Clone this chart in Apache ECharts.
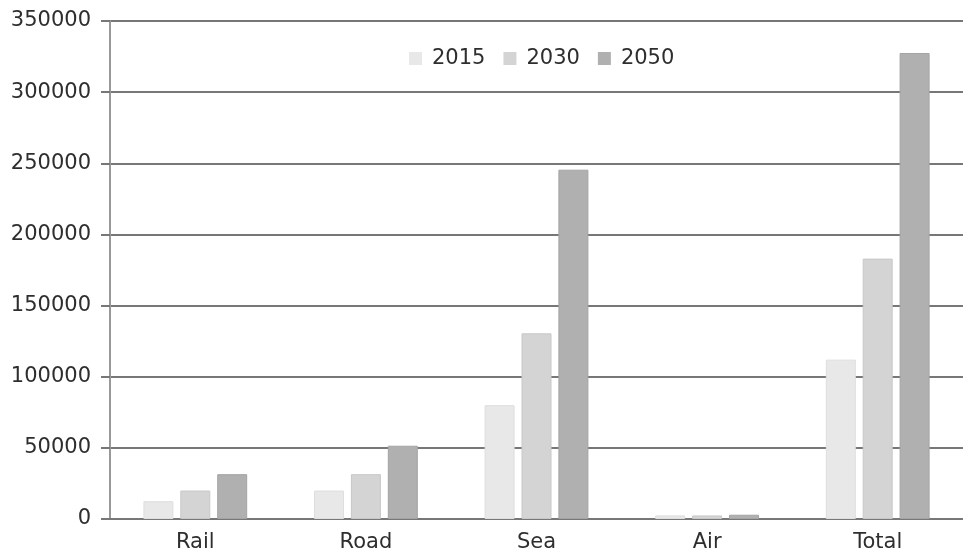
<!DOCTYPE html>
<html><head><meta charset="utf-8">
<script src="https://cdn.jsdelivr.net/npm/echarts@6/dist/echarts.min.js"></script>
<style>html,body{margin:0;padding:0;background:#fff}#c{width:963px;height:553px}</style>
</head><body><div id="c"></div>
<script>
const categories = ['Rail', 'Road', 'Sea', 'Air', 'Total'];
const seriesNames = ['2015', '2030', '2050'];
const values2015 = [12500, 20000, 80000, 2500, 112000];
const values2030 = [20000, 31500, 130500, 2500, 183000];
const values2050 = [31500, 51500, 245500, 3000, 327500];
const colors = ['#e8e8e8', '#d4d4d4', '#b0b0b0'];
const borders = ['#dedede', '#c8c8c8', '#a4a4a4'];
const allValues = [values2015, values2030, values2050];
const FONT = 'DejaVu Sans';

const chart = echarts.init(document.getElementById('c'));
chart.setOption({
  animation: false,
  textStyle: { fontFamily: FONT },
  legend: {
    top: 43, left: 404,
    itemWidth: 13, itemHeight: 13, itemGap: 18,
    icon: 'rect',
    itemStyle: { borderWidth: 0 },
    textStyle: { fontSize: 21, color: '#2e2e2e', fontFamily: FONT, padding: [0, 0, 0, 5] },
    data: seriesNames
  },
  grid: { left: 110, right: -9, top: 21, bottom: 34, containLabel: false },
  xAxis: {
    type: 'category', data: categories,
    axisLine: { lineStyle: { color: '#777', width: 2 } },
    axisTick: { show: false },
    axisLabel: { fontSize: 21, color: '#2e2e2e', margin: 13, fontFamily: FONT }
  },
  yAxis: {
    type: 'value', min: 0, max: 350000, interval: 50000,
    axisLine: { show: true, lineStyle: { color: '#999', width: 2 } },
    axisTick: { show: true, length: 9, lineStyle: { color: '#777', width: 2 } },
    axisLabel: { fontSize: 21, color: '#2e2e2e', margin: 19, fontFamily: FONT,
      formatter: v => String(v) },
    splitLine: { lineStyle: { color: '#777', width: 2 } }
  },
  series: seriesNames.map((n, i) => ({
    name: n, type: 'bar', data: allValues[i],
    barWidth: 30, barGap: '23%',
    itemStyle: { color: colors[i], borderColor: borders[i], borderWidth: 1 }
  }))
});
</script></body></html>
